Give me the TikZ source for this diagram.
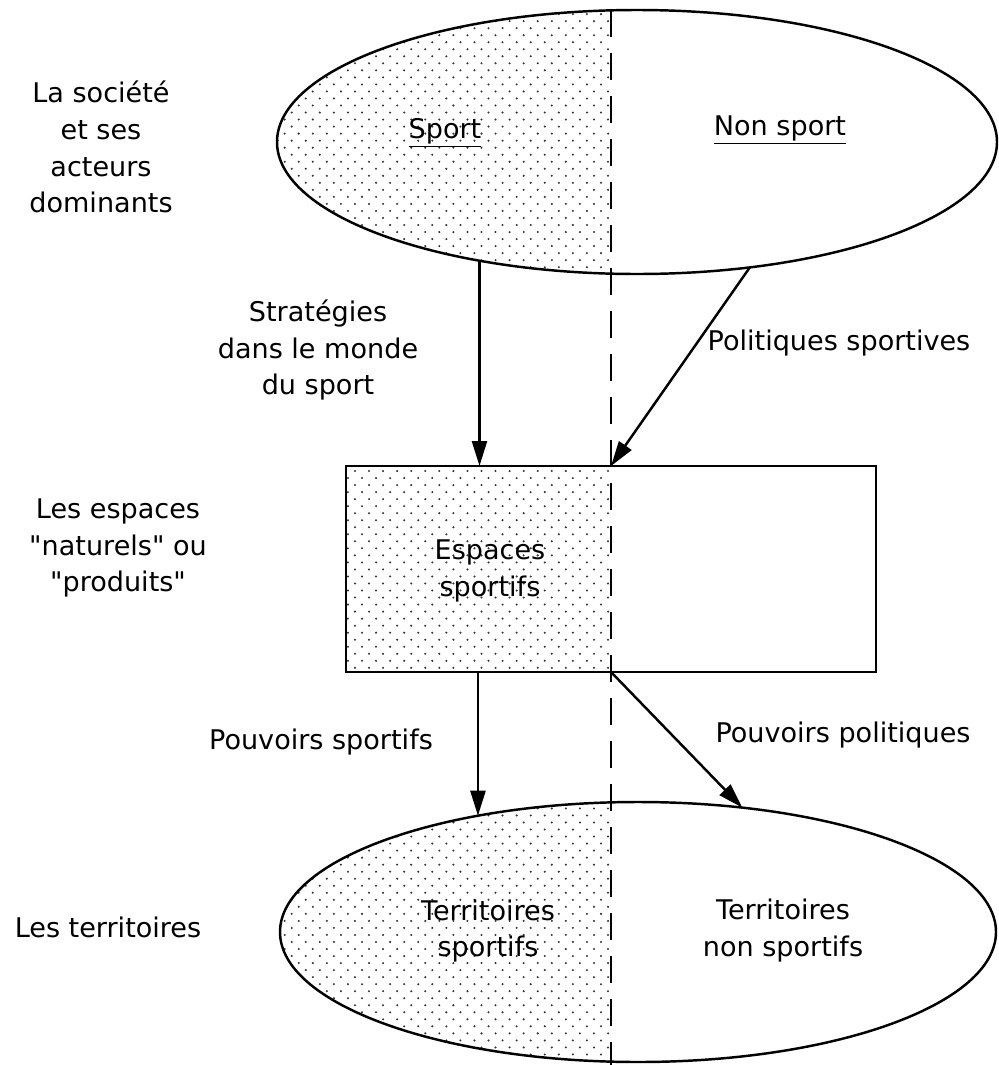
\documentclass[tikz,border=0pt]{standalone}
\usepackage{fontspec}
\setmainfont{DejaVu Sans}
\usetikzlibrary{shapes.geometric,arrows.meta,patterns}

\pgfdeclarepatternformonly{sparsedots}{\pgfqpoint{-1pt}{-1pt}}{\pgfqpoint{9pt}{9pt}}{\pgfqpoint{8pt}{8pt}}{
  \pgfpathcircle{\pgfqpoint{2pt}{2pt}}{0.65pt}
  \pgfpathcircle{\pgfqpoint{6pt}{6pt}}{0.65pt}
  \pgfusepath{fill}
}

\tikzset{
  txt/.style={align=center, font=\fontsize{15.4}{21}\selectfont},
  ell/.style={ellipse, draw, line width=1.4pt, inner sep=0pt, outer sep=0pt},
  box/.style={rectangle, draw, line width=1.5pt, inner sep=0pt, outer sep=0pt},
  halfdots/.style={path picture={\fill[pattern=sparsedots, pattern color=black!80]
      (path picture bounding box.south west) rectangle ([xshift=#1]path picture bounding box.north);}},
  arr/.style={-{Triangle[length=0.5cm,width=0.3cm]}, line width=1.4pt},
  split/.style={dash pattern=on 0.54cm off 0.32cm, line width=1.4pt}
}

\begin{document}
\begin{tikzpicture}
                \useasboundingbox (0,0) rectangle (19.96,-21.3);

                \node[ell, halfdots=-0.52cm, minimum width=14.4cm, minimum height=5.28cm] (soc) at (12.74,-2.84) {};
                \node[box, halfdots=0cm, minimum width=10.6cm, minimum height=4.12cm] (esp) at (12.22,-11.38) {};
                \node[ell, halfdots=-0.54cm, minimum width=14.32cm, minimum height=5.2cm] (terr) at (12.76,-18.64) {};

                \coordinate (dtop) at (12.22,-0.2);
                \coordinate (dbot) at (12.22,-21.3);
                \draw[split] (dtop) to (dbot);

                \node[txt] (lsoc) at (2.02,-2.94) {La société\\et ses\\acteurs\\dominants};
                \node[txt] (lesp) at (2.36,-10.96) {Les espaces\\\textquotedbl naturels\textquotedbl{} ou\\\textquotedbl produits\textquotedbl};
                \node[txt] (lter) at (2.16,-18.54) {Les territoires};

                \node[txt] (sport) at (8.9,-2.66) {\underline{Sport}};
                \node[txt] (nonsport) at (15.6,-2.6) {\underline{Non sport}};
                \node[txt] (espsp) at (9.8,-11.42) {Espaces\\sportifs};
                \node[txt] (tersp) at (9.76,-18.62) {Territoires\\sportifs};
                \node[txt] (ternon) at (15.66,-18.61) {Territoires\\non sportifs};

                \node[txt] (strat) at (6.36,-7.0) {Stratégies\\dans le monde\\du sport};
                \node[txt] (polsp) at (16.78,-6.86) {Politiques sportives};
                \node[txt] (pouvsp) at (6.42,-14.84) {Pouvoirs sportifs};
                \node[txt] (pouvpol) at (16.86,-14.7) {Pouvoirs politiques};

                \draw[arr] (soc.217) to (soc.217 |- esp.north);
                \draw[arr] (soc.-48) to (esp.north);
                \draw[arr] (esp.south -| terr.144) to (terr.144);
                \draw[arr] (esp.south) to (terr.50);
            \end{tikzpicture}
\end{document}
